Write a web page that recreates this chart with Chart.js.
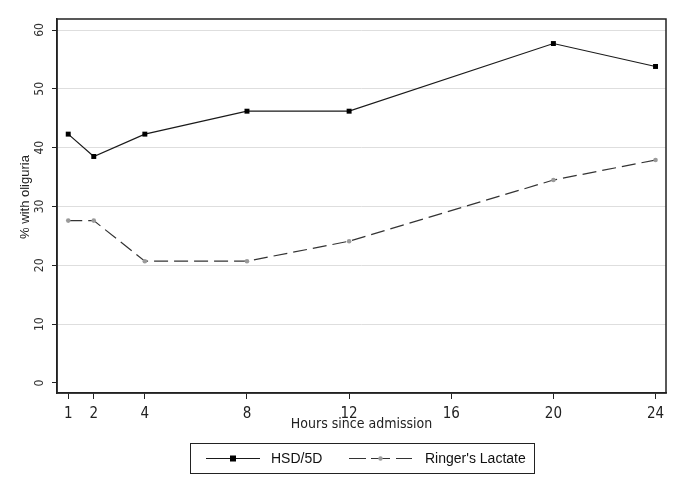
<!DOCTYPE html>
<html><head><meta charset="utf-8">
<script src="https://cdn.jsdelivr.net/npm/chart.js@4/dist/chart.umd.min.js"></script>
<style>html,body{margin:0;padding:0;background:#fff;}#wrap{width:685px;height:498px;}</style>
</head><body><div id="wrap"><canvas id="c" width="685" height="498"></canvas></div>
<script>
const hours = [1, 2, 4, 8, 12, 20, 24];
const xTickValues = [1, 2, 4, 8, 12, 16, 20, 24];
const yTickValues = [0, 10, 20, 30, 40, 50, 60];
const hsd = [42.3, 38.5, 42.3, 46.2, 46.2, 57.7, 53.8];
const ringers = [27.6, 27.6, 20.7, 20.7, 24.1, 34.5, 37.9];
const seriesLabels = ["HSD/5D", "Ringer's Lactate"];
const xTitle = "Hours since admission";
const yTitle = "% with oliguria";

const narrow = "'Liberation Sans Narrow', 'DejaVu Sans Condensed', 'Arial Narrow', sans-serif";
const regular = "'Liberation Sans', Arial, sans-serif";
const axisColor = '#222';

const framePlugin = {
  id: 'frame',
  afterDraw(chart) {
    const {ctx, chartArea: a} = chart;
    ctx.save();
    ctx.strokeStyle = axisColor;
    ctx.lineWidth = 1.5;
    ctx.strokeRect(a.left, a.top, a.right - a.left, a.bottom - a.top);
    ctx.fillStyle = '#222';
    ctx.font = "13px " + regular;
    ctx.textAlign = 'center';
    ctx.textBaseline = 'middle';
    ctx.translate(25, 197);
    ctx.rotate(-Math.PI / 2);
    ctx.fillText(yTitle, 0, 0);
    ctx.restore();
  }
};

const legendPlugin = {
  id: 'boxLegend',
  afterDraw(chart) {
    const {ctx} = chart;
    const boxL = 190, boxT = 443, boxR = 534, boxB = 473;
    const cy = Math.round((boxT + boxB) / 2) + 0.5;
    ctx.save();
    ctx.strokeStyle = axisColor;
    ctx.lineWidth = 1;
    ctx.strokeRect(boxL + 0.5, boxT + 0.5, boxR - boxL, boxB - boxT);
    const items = [
      {segs: [[206, 260]], mx: 233, tx: 271},
      {segs: [[349, 366], [371, 390], [396, 412]], mx: 380.5, tx: 425}
    ];
    chart.data.datasets.forEach((ds, i) => {
      const it = items[i];
      ctx.strokeStyle = ds.borderColor;
      ctx.lineWidth = ds.borderWidth;
      ctx.beginPath();
      it.segs.forEach(s => { ctx.moveTo(s[0], cy); ctx.lineTo(s[1], cy); });
      ctx.stroke();
      ctx.fillStyle = ds.pointBackgroundColor;
      if (ds.pointStyle === 'rect') {
        ctx.fillRect(it.mx - 3, cy - 3, 6, 6);
      } else {
        ctx.beginPath(); ctx.arc(it.mx, cy, 2.2, 0, Math.PI * 2); ctx.fill();
      }
      ctx.fillStyle = '#111';
      ctx.font = "14px " + regular;
      ctx.textBaseline = 'middle';
      ctx.textAlign = 'left';
      ctx.fillText(ds.label, it.tx, cy + 1);
    });
    ctx.restore();
  }
};

new Chart(document.getElementById('c'), {
  type: 'line',
  data: {
    datasets: [
      {
        label: seriesLabels[0],
        data: hours.map((h, i) => ({x: h, y: hsd[i]})),
        borderColor: '#1a1a1a', borderWidth: 1.2,
        pointStyle: 'rect', pointRadius: 3.5,
        pointBackgroundColor: '#000', pointBorderColor: '#000', pointBorderWidth: 0,
        tension: 0
      },
      {
        label: seriesLabels[1],
        data: hours.map((h, i) => ({x: h, y: ringers[i]})),
        borderColor: '#333', borderWidth: 1.2, borderDash: [14, 6],
        pointStyle: 'circle', pointRadius: 2.3,
        pointBackgroundColor: '#9a9a9a', pointBorderColor: '#9a9a9a', pointBorderWidth: 0,
        tension: 0
      }
    ]
  },
  options: {
    responsive: false,
    animation: false,
    devicePixelRatio: 1,
    layout: {padding: {top: 19, right: 19, left: 0, bottom: 65}},
    plugins: {legend: {display: false}, tooltip: {enabled: false}},
    scales: {
      x: {
        type: 'linear', min: 0.56, max: 24.41,
        afterBuildTicks: s => { s.ticks = xTickValues.map(v => ({value: v})); },
        afterFit: s => { s.height = 40; },
        grid: {drawOnChartArea: false, drawTicks: true, tickLength: 6, tickColor: axisColor, tickWidth: 1},
        border: {display: true, color: axisColor, width: 1.5},
        ticks: {font: {family: narrow, size: 15}, color: '#222', padding: 6, maxRotation: 0, autoSkip: false},
        title: {display: true, text: xTitle, font: {family: narrow, size: 14}, color: '#222', padding: {top: 0, bottom: 0}}
      },
      y: {
        min: -1.7, max: 61.87,
        afterBuildTicks: s => { s.ticks = yTickValues.map(v => ({value: v})); },
        afterFit: s => { s.width = 57; },
        grid: {
          color: c => (c.tick && c.tick.value === 0) ? 'rgba(0,0,0,0)' : '#dedede',
          lineWidth: 1, drawTicks: true, tickLength: 5, tickColor: axisColor, tickWidth: 1
        },
        border: {display: true, color: axisColor, width: 1.5},
        ticks: {font: {family: narrow, size: 12}, color: '#333', padding: 5, crossAlign: 'center', minRotation: 90, maxRotation: 90, autoSkip: false},
        title: {display: false}
      }
    }
  },
  plugins: [framePlugin, legendPlugin]
});
</script>
</body></html>
